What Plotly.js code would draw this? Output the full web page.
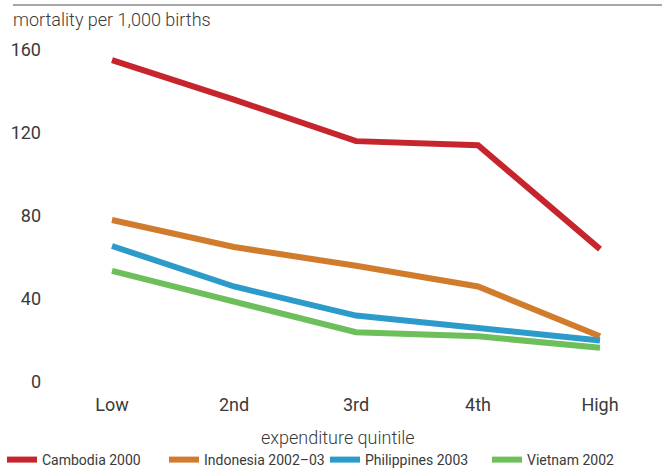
<!DOCTYPE html>
<html><head><meta charset="utf-8">
<script src="https://cdn.plot.ly/plotly-3.0.1.min.js"></script>
<style>html,body{margin:0;padding:0;background:#fff}#chart{width:662px;height:470px}</style>
</head><body><div id="chart"></div>
<script>
const quintiles = ["Low", "2nd", "3rd", "4th", "High"];
const seriesNames = ["Cambodia 2000", "Indonesia 2002–03", "Philippines 2003", "Vietnam 2002"];
const cambodia = [155, 136, 116, 114, 64];
const indonesia = [78, 65, 56, 46, 22];
const philippines = [65.5, 46, 32, 26, 20];
const vietnam = [53.5, 39, 24, 22, 16.5];
const yTicks = [0, 40, 80, 120, 160];

const colors = ["#c6252d", "#d17c2c", "#2d9bc9", "#6cbf5b"];
const allSeries = [cambodia, indonesia, philippines, vietnam];
const tickFamily = "Roboto, Open Sans, Arial, sans-serif";
const regular = "Roboto, Open Sans, Arial, sans-serif";
const legendNames = ["legend", "legend2", "legend3", "legend4"];
const legendTextStart = [43, 205, 366, 528];

const traces = allSeries.map((vals, i) => ({
  x: quintiles.map((q, j) => j),
  y: vals,
  name: seriesNames[i],
  legend: legendNames[i],
  type: "scatter",
  mode: "lines",
  line: {color: colors[i], width: 6},
  hoverinfo: "skip"
}));

const L = 44, R = 6, T = 29, B = 88;
const W = 662, H = 470;
const pxPerCat = 122;
const x0 = -(112 - L) / pxPerCat;
const x1 = x0 + (W - L - R) / pxPerCat;
const PW = W - L - R, PH = H - B - T;

const layout = {
  width: W, height: H,
  margin: {l: L, r: R, t: T, b: B},
  paper_bgcolor: "#fff", plot_bgcolor: "#fff",
  showlegend: true,
  title: {text: "mortality per 1,000 births", x: 13 / W, xanchor: "left", xref: "container",
          y: 1 - 20 / H, yanchor: "middle", yref: "container",
          font: {family: regular, size: 18, weight: 300, color: "#3a3a3a"}},
  xaxis: {
    range: [x0, x1], tickmode: "array", tickvals: quintiles.map((q, j) => j), ticktext: quintiles,
    showgrid: false, zeroline: false, showline: false, ticks: "",
    tickfont: {family: tickFamily, size: 18, color: "#3a3a3a"}, ticklabelstandoff: 10
  },
  yaxis: {
    range: [0, 170], tickmode: "array", tickvals: yTicks, ticktext: yTicks.map(String),
    showgrid: false, zeroline: false, showline: false, ticks: "",
    tickfont: {family: tickFamily, size: 18, color: "#3a3a3a"}, ticklabelstandoff: 2
  },
  annotations: [{text: "expenditure quintile", xref: "paper", yref: "paper",
                 x: (338 - L) / PW, y: (H - B - 437) / PH, xanchor: "center", yanchor: "middle",
                 showarrow: false, font: {family: regular, size: 18, weight: 300, color: "#3a3a3a"}}],
  shapes: [{type: "line", xref: "paper", yref: "paper",
            x0: (13 - L) / PW, x1: (662 - L) / PW,
            y0: (H - B - 5) / PH, y1: (H - B - 5) / PH,
            line: {color: "#8a8a8a", width: 1.5}}]
};
legendNames.forEach((ln, i) => {
  layout[ln] = {orientation: "h", xref: "container", yref: "container",
                x: (legendTextStart[i] - 41) / W, y: 1 - 460 / H,
                xanchor: "left", yanchor: "middle", bgcolor: "rgba(0,0,0,0)",
                font: {family: regular, size: 14, color: "#3a3a3a"}};
});

Plotly.newPlot("chart", traces, layout, {displayModeBar: false, staticPlot: true});
</script></body></html>
